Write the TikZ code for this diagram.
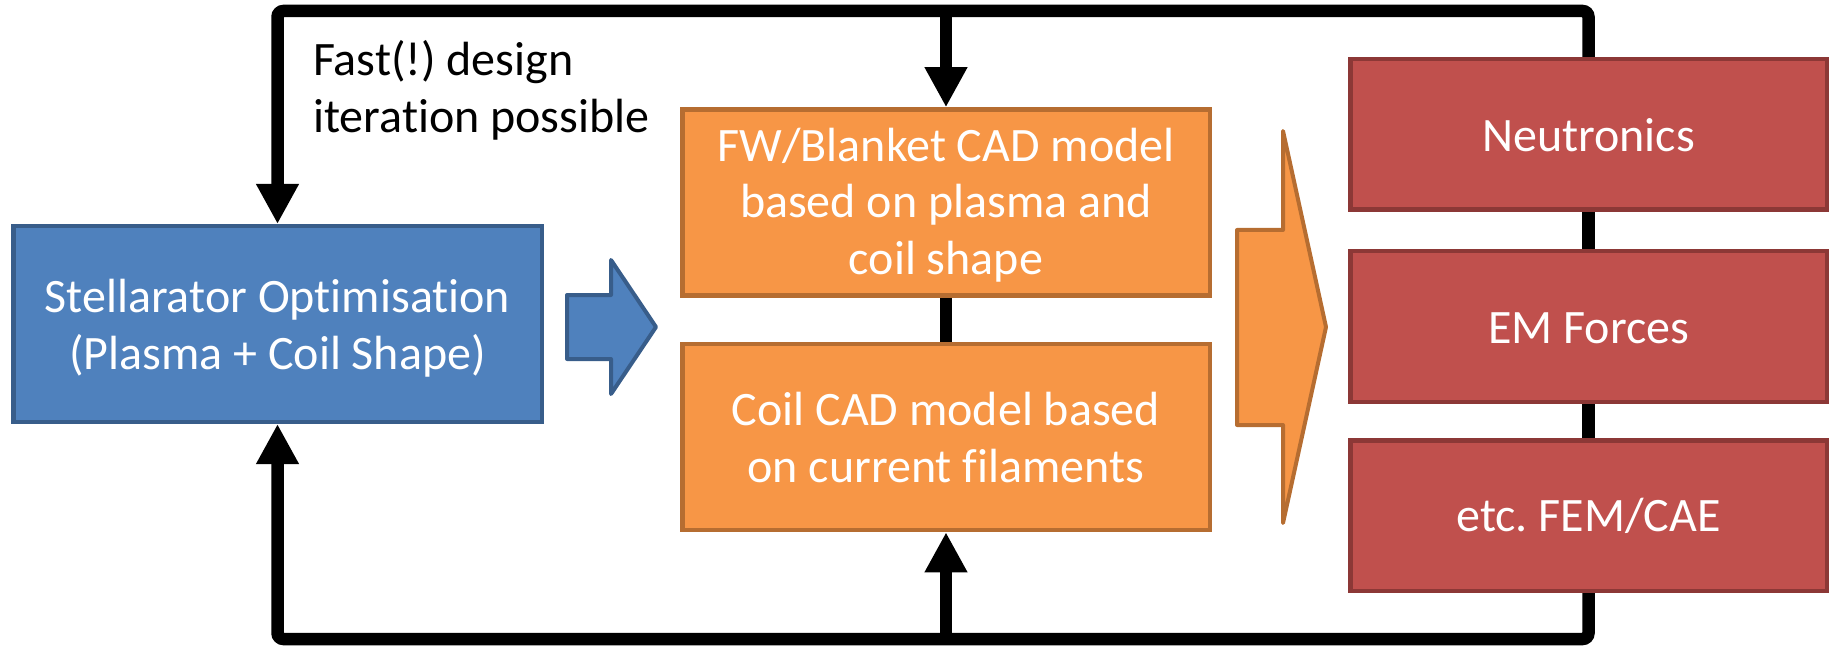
\documentclass[tikz,border=0pt]{standalone}
\usepackage{fontspec}
\setmainfont{Carlito}[Ligatures=NoCommon]
\frenchspacing
\usetikzlibrary{arrows.meta}
\definecolor{bluefill}{HTML}{4F81BD}
\definecolor{blueline}{HTML}{385D8A}
\definecolor{orfill}{HTML}{F79646}
\definecolor{orline}{HTML}{B66D31}
\definecolor{redfill}{HTML}{C0504D}
\definecolor{redline}{HTML}{8C3836}
\tikzset{
  box/.style={draw, line width=4.5pt, inner sep=0pt},
  bluebox/.style={box, fill=bluefill, draw=blueline, minimum width=528.5pt, minimum height=195.5pt},
  orbox/.style={box, fill=orfill, draw=orline, minimum width=527.5pt, minimum height=186pt},
  redbox/.style={box, fill=redfill, draw=redline, minimum width=476.5pt, minimum height=150.5pt},
  boxtext/.style={anchor=base, align=center, inner sep=0pt, text=white, font=\fontsize{48}{57}\selectfont},
  notetext/.style={anchor=base west, align=left, inner sep=0pt, text=black, font=\fontsize{48}{57}\selectfont},
  loopline/.style={line width=12.5pt, draw=black, rounded corners=6pt},
  tri/.style={-{Triangle[length=40pt,width=40pt]}},
  bigarrow/.style={line width=4pt, line join=round},
}
\begin{document}
\begin{tikzpicture}[x=1pt,y=-1pt]
\useasboundingbox (0,0) rectangle (1832,647);
% boxes
\node[bluebox] (blue) at (277.5,324) {};
\node[orbox] (o1) at (946,202.5) {};
\node[orbox] (o2) at (946,437) {};
\node[redbox] (r1) at (1588.5,134.5) {};
\node[redbox] (r2) at (1588.5,326.5) {};
\node[redbox] (r3) at (1588.5,515.5) {};
% box texts (anchored at the baseline of their last line)
\node[boxtext] (bluetxt) at (277.5,369) {Stellarator Optimisation\\(Plasma + Coil Shape)};
\node[boxtext] (o1txt) at (946,275) {FW/Blanket CAD model\\based on plasma and\\coil shape};
\node[boxtext] (o2txt) at (946,482) {Coil CAD model based\\on current filaments};
\node[boxtext] (r1txt) at (1588.5,152) {Neutronics};
\node[boxtext] (r2txt) at (1588.5,343) {EM Forces};
\node[boxtext] (r3txt) at (1588.5,531) {etc. FEM/CAE};
% note
\node[notetext] (note) at (313,133) {Fast(!) design\\iteration possible};
% loop coordinates
\coordinate (topline) at (0,11);
\coordinate (botline) at (0,639);
% loop
\draw[loopline, tri] (r1.north) -- (r1.north |- topline) -| (blue.north);
\draw[loopline, tri] (o1.north |- topline) -- (o1.north);
\draw[loopline, tri] (r3.south) -- (r3.south |- botline) -| (blue.south);
\draw[loopline, tri] (o2.south |- botline) -- (o2.south);
\draw[loopline] (o1.south) -- (o2.north);
\draw[loopline] (r1.south) -- (r2.north);
\draw[loopline] (r2.south) -- (r3.north);
% big arrows
\draw[bigarrow, fill=bluefill, draw=blueline] (567,295) -- (611,295) -- (611,260) -- (656,327) -- (611,394) -- (611,359) -- (567,359) -- cycle;
\draw[bigarrow, fill=orfill, draw=orline] (1237,230) -- (1283,230) -- (1283,131) -- (1326,327) -- (1283,523) -- (1283,425) -- (1237,425) -- cycle;
\end{tikzpicture}
\end{document}
